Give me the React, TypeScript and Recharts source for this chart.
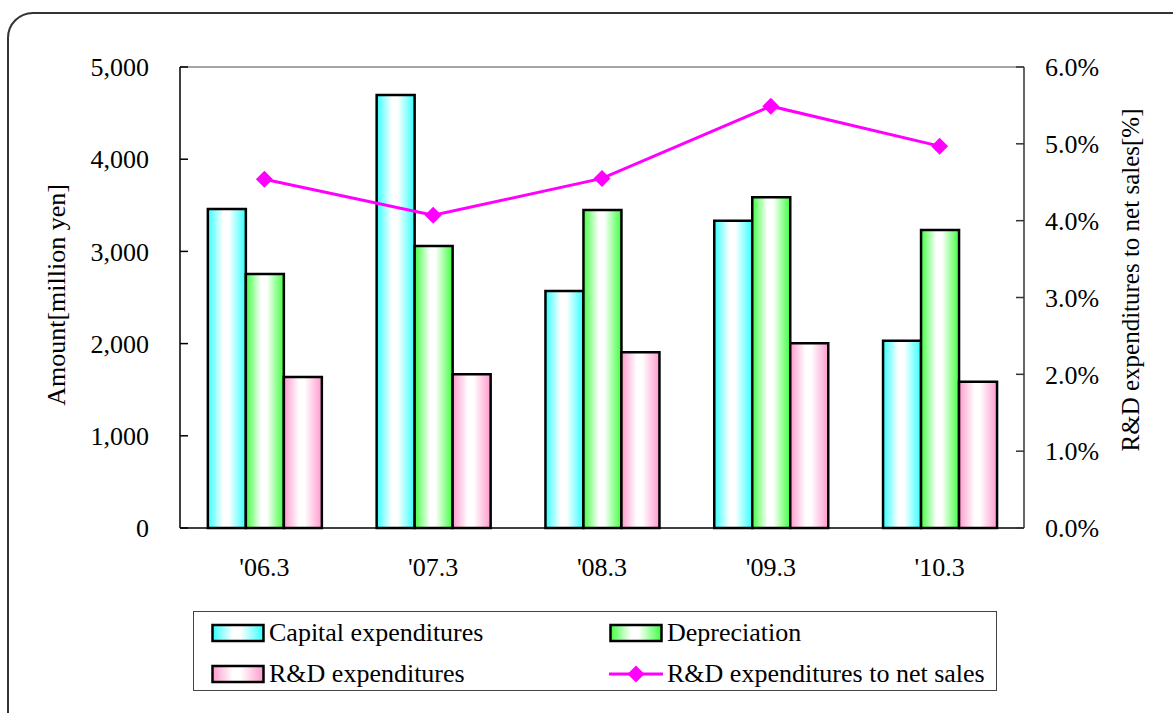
import React from 'react';
import { ComposedChart, Bar, Line, XAxis, YAxis, Legend, ReferenceLine, Label } from 'recharts';

const categories = ["'06.3", "'07.3", "'08.3", "'09.3", "'10.3"];
const capitalExpenditures = [3460, 4696, 2571, 3333, 2032];
const depreciation = [2755, 3059, 3449, 3587, 3232];
const rdExpenditures = [1638, 1667, 1906, 2003, 1587];
const rdToNetSales = [4.54, 4.07, 4.55, 5.49, 4.97];
const leftTicks = [0, 1000, 2000, 3000, 4000, 5000];
const rightTicks = [0, 1, 2, 3, 4, 5, 6];

const seriesNames = {
  capital: 'Capital expenditures',
  dep: 'Depreciation',
  rd: 'R&D expenditures',
  ratio: 'R&D expenditures to net sales',
};

const data = categories.map((c, i) => ({
  category: c,
  capital: capitalExpenditures[i],
  dep: depreciation[i],
  rd: rdExpenditures[i],
  ratio: rdToNetSales[i],
}));

const FONT = 'Liberation Serif, DejaVu Serif, serif';
const MAGENTA = '#FF00FF';

const Diamond = (props: any) => {
  const { cx, cy } = props;
  if (cx == null || cy == null) return null;
  const r = 8.5;
  return (
    <polygon
      points={`${cx},${cy - r} ${cx + r},${cy} ${cx},${cy + r} ${cx - r},${cy}`}
      fill={MAGENTA}
    />
  );
};

const gradIds: Record<string, string> = { capital: 'gCyan', dep: 'gGreen', rd: 'gPink' };

const LegendBox = (props: any) => {
  const payload = props.payload || [];
  const rowY = [21, 62];
  const colX = [17, 415];
  return (
    <div
      style={{
        position: 'relative',
        width: 804,
        height: 80,
        border: '1.5px solid #444',
        boxSizing: 'border-box',
        background: '#fff',
        fontFamily: FONT,
        fontSize: 26,
        color: '#000',
      }}
    >
      {payload.map((p: any, i: number) => {
        const key = p.dataKey as string;
        const row = Math.floor(i / 2);
        const col = i % 2;
        const left = colX[col];
        const cy = rowY[row];
        return (
          <div key={key} style={{ position: 'absolute', left, top: cy - 15, height: 30, display: 'flex', alignItems: 'center' }}>
            <svg width={54} height={22} style={{ display: 'block' }}>
              {key === 'ratio' ? (
                <g>
                  <line x1={0} y1={11} x2={54} y2={11} stroke={MAGENTA} strokeWidth={3} />
                  <polygon points="27,2.5 35.5,11 27,19.5 18.5,11" fill={MAGENTA} />
                </g>
              ) : (
                <rect x={1.5} y={3} width={51} height={16} fill={`url(#${gradIds[key]})`} stroke="#000" strokeWidth={2.5} />
              )}
            </svg>
            <span style={{ marginLeft: 4, whiteSpace: 'nowrap', lineHeight: '30px' }}>{p.value}</span>
          </div>
        );
      })}
    </div>
  );
};

const Gradients = () => (
  <svg width={0} height={0} style={{ position: 'absolute' }}>
    <defs>
      <linearGradient id="gCyan" x1="0" y1="0" x2="1" y2="0">
        <stop offset="0%" stopColor="#33FFFF" />
        <stop offset="40%" stopColor="#FFFFFF" />
        <stop offset="55%" stopColor="#FFFFFF" />
        <stop offset="100%" stopColor="#33FFFF" />
      </linearGradient>
      <linearGradient id="gGreen" x1="0" y1="0" x2="1" y2="0">
        <stop offset="0%" stopColor="#40FF40" />
        <stop offset="40%" stopColor="#FFFFFF" />
        <stop offset="55%" stopColor="#FFFFFF" />
        <stop offset="100%" stopColor="#40FF40" />
      </linearGradient>
      <linearGradient id="gPink" x1="0" y1="0" x2="1" y2="0">
        <stop offset="0%" stopColor="#FF99CC" />
        <stop offset="40%" stopColor="#FFFFFF" />
        <stop offset="55%" stopColor="#FFFFFF" />
        <stop offset="100%" stopColor="#FF99CC" />
      </linearGradient>
    </defs>
  </svg>
);

export default function App() {
  const tickStyle = { fill: '#000', fontSize: 26, fontFamily: FONT };
  return (
    <div
      style={{
        position: 'fixed',
        left: 0,
        top: 0,
        width: 1173,
        height: 713,
        overflow: 'hidden',
        background: '#fff',
        fontFamily: FONT,
      }}
    >
      <Gradients />
      <div
        style={{
          position: 'absolute',
          left: 7,
          top: 12,
          width: 1200,
          height: 740,
          border: '2px solid #333',
          borderRadius: 26,
          boxSizing: 'border-box',
        }}
      />
      <div style={{ position: 'absolute', left: 0, top: 0 }}>
        <ComposedChart
          width={1173}
          height={713}
          data={data}
          margin={{ top: 67, bottom: 155, left: 80, right: 49 }}
          barCategoryGap="16.5%"
          barGap={0}
          style={{ fontFamily: FONT }}
        >
          <XAxis
            dataKey="category"
            xAxisId="x"
            height={30}
            tickLine={false}
            tickSize={0}
            tickMargin={30}
            axisLine={{ stroke: '#000', strokeWidth: 1.5 }}
            tick={tickStyle}
            interval={0}
          />
          <YAxis
            yAxisId="left"
            orientation="left"
            width={100}
            domain={[0, 5000]}
            ticks={leftTicks}
            interval={0}
            tickFormatter={(v: number) => v.toLocaleString('en-US')}
            tickSize={-8}
            tickMargin={39}
            axisLine={{ stroke: '#000', strokeWidth: 1.5 }}
            tickLine={{ stroke: '#000', strokeWidth: 1.5 }}
            tick={tickStyle}
          >
            <Label
              content={() => (
                <text
                  x={56}
                  y={295}
                  transform="rotate(-90 56 295)"
                  textAnchor="middle"
                  dominantBaseline="central"
                  style={{ fontFamily: FONT }}
                  fontSize={26}
                  fill="#000"
                >
                  Amount[million yen]
                </text>
              )}
            />
          </YAxis>
          <YAxis
            yAxisId="right"
            orientation="right"
            width={100}
            domain={[0, 6]}
            ticks={rightTicks}
            interval={0}
            tickFormatter={(v: number) => `${v.toFixed(1)}%`}
            tickSize={-8}
            tickMargin={29}
            axisLine={{ stroke: '#333', strokeWidth: 1.5 }}
            tickLine={{ stroke: '#333', strokeWidth: 1.5 }}
            tick={tickStyle}
          >
            <Label
              content={() => (
                <text
                  x={1130}
                  y={280}
                  transform="rotate(-90 1130 280)"
                  textAnchor="middle"
                  dominantBaseline="central"
                  style={{ fontFamily: FONT }}
                  fontSize={25}
                  fill="#000"
                >
                  R&amp;D expenditures to net sales[%]
                </text>
              )}
            />
          </YAxis>
          <ReferenceLine yAxisId="left" xAxisId="x" y={5000} stroke="#888" strokeWidth={1.5} />
          <Bar xAxisId="x" yAxisId="left" dataKey="capital" name={seriesNames.capital} fill="url(#gCyan)" stroke="#000" strokeWidth={2.5} isAnimationActive={false} />
          <Bar xAxisId="x" yAxisId="left" dataKey="dep" name={seriesNames.dep} fill="url(#gGreen)" stroke="#000" strokeWidth={2.5} isAnimationActive={false} />
          <Bar xAxisId="x" yAxisId="left" dataKey="rd" name={seriesNames.rd} fill="url(#gPink)" stroke="#000" strokeWidth={2.5} isAnimationActive={false} />
          <Line
            xAxisId="x"
            yAxisId="right"
            dataKey="ratio"
            name={seriesNames.ratio}
            stroke={MAGENTA}
            strokeWidth={3}
            dot={<Diamond />}
            activeDot={false}
            type="linear"
            isAnimationActive={false}
          />
          <Legend
            layout="horizontal"
            align="center"
            verticalAlign="middle"
            content={<LegendBox />}
            wrapperStyle={{ left: 193, top: 611, width: 804, height: 80 }}
          />
        </ComposedChart>
      </div>
    </div>
  );
}
